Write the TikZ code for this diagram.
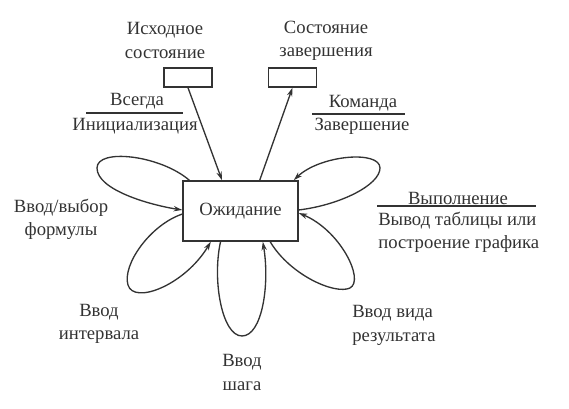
\documentclass[tikz,border=0pt]{standalone}
\usepackage{fontspec}
\setmainfont{Liberation Serif}
\usetikzlibrary{arrows.meta}
\definecolor{ink}{gray}{0.2}
\tikzset{
  lbl/.style={text=ink, align=center, inner sep=0pt, font=\fontsize{14}{17.5}\selectfont},
  state/.style={draw=ink, line width=1.1pt, minimum width=86.25pt, minimum height=45pt},
  pin/.style={draw=ink, line width=1.1pt, minimum width=36pt, minimum height=14.25pt, inner sep=0pt},
  tr/.style={draw=ink, line width=1pt, -{Stealth[length=6.5pt,width=4pt]}},
  bar/.style={draw=ink, line width=1pt}
}
\begin{document}
\begin{tikzpicture}[x=0.75pt,y=-0.75pt]
\useasboundingbox (0,0) rectangle (569,409);

%draw states
\node[lbl, state] (wait) at (240.5,211) {Ожидание};
\node[pin] (begin) at (188,77.5) {};
\node[pin] (finish) at (292.5,77.5) {};
\node[lbl] (begintxt) at (165,40.5) {Исходное\\состояние};
\node[lbl] (finishtxt) at (326,40.5) {Состояние\\завершения};

%draw entry and exit
\draw[tr] (begin.south) -- (wait.121.7);
\draw[tr] (wait.58.3) -- (finish.south);

%draw labels with bars
\node[lbl] (always) at (137,101) {Всегда};
\node[lbl] (init) at (135,126) {Инициализация};
\coordinate (b1a) at (86,113);
\coordinate (b1b) at (183,113);
\draw[bar] (b1a) -- (b1b);

\node[lbl] (cmd) at (363,103) {Команда};
\node[lbl] (stop) at (362,126) {Завершение};
\coordinate (b2a) at (312,114);
\coordinate (b2b) at (405,114);
\draw[bar] (b2a) -- (b2b);

\node[lbl] (run) at (458,198) {Выполнение};
\node[lbl, align=left, anchor=west] (out) at (378,232.5) {Вывод таблицы или\\построение графика};
\coordinate (b3a) at (377,206);
\coordinate (b3b) at (536,206);
\draw[bar] (b3a) -- (b3b);

\node[lbl] (formula) at (61,219.5) {Ввод/выбор\\формулы};
\node[lbl] (range) at (99,324) {Ввод\\интервала};
\node[lbl] (step) at (242,372.5) {Ввод\\шага};
\node[lbl, align=left, anchor=west] (kind) at (352,325.5) {Ввод вида\\результата};

%draw self loops
\draw[tr] (wait.149.3) .. controls (160,155) and (97,148) .. (97,168) .. controls (97,190) and (150,205) .. (wait.179);
\draw[tr] (wait.183) .. controls (150,225) and (122,265) .. (128,285) .. controls (134,305) and (185,285) .. (wait.226.5);
\draw[tr] (wait.237) .. controls (212,280) and (222,336) .. (242,336) .. controls (262,336) and (270,285) .. (wait.306.9);
\draw[tr] (wait.314.5) .. controls (290,275) and (335,295) .. (350,288) .. controls (365,280) and (340,230) .. (wait.358);
\draw[tr] (wait.1) .. controls (340,205) and (380,185) .. (380,168) .. controls (380,150) and (320,155) .. (wait.30.2);
\end{tikzpicture}
\end{document}
